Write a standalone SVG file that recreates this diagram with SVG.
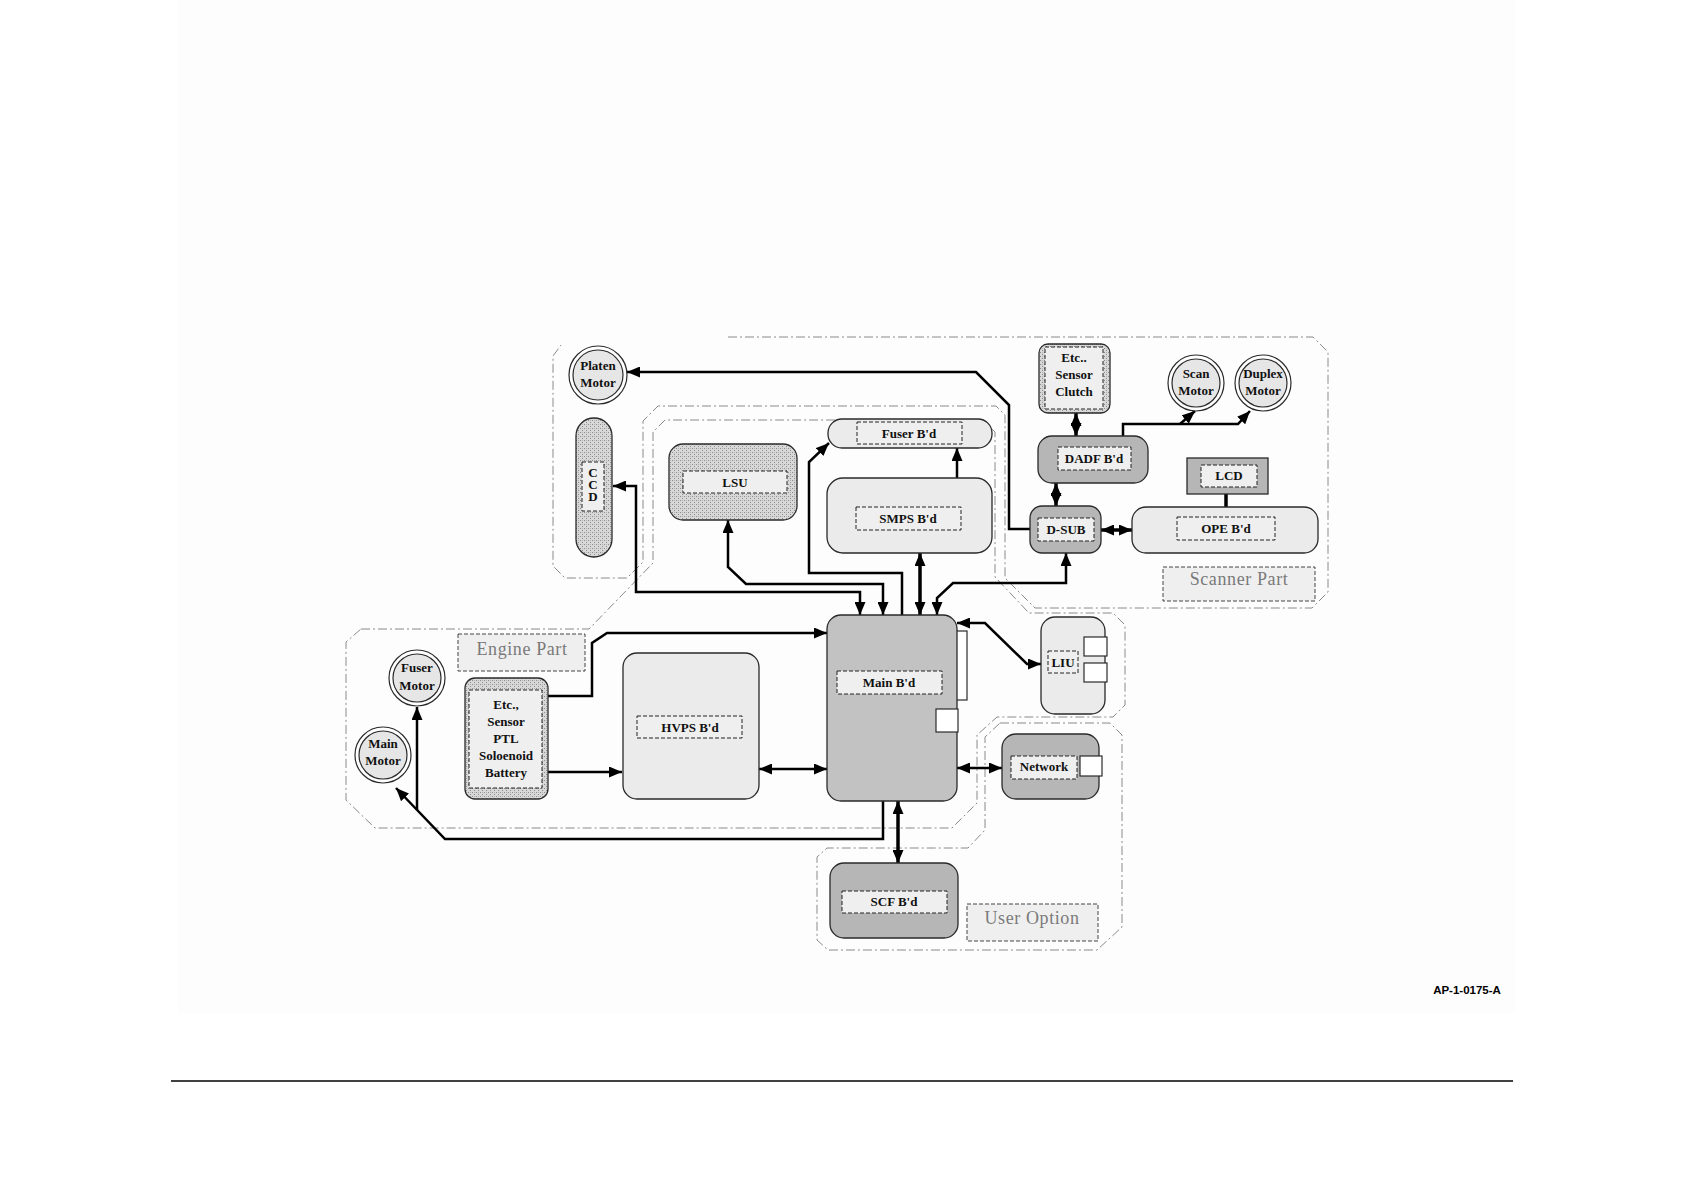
<svg xmlns="http://www.w3.org/2000/svg" width="1684" height="1190" viewBox="0 0 1684 1190">
<defs>
<pattern id="hatch" width="4" height="4" patternUnits="userSpaceOnUse">
<rect width="4" height="4" fill="#d8d8d8"/>
<rect x="0" y="0" width="1" height="1" fill="#8c8c8c"/>
<rect x="2" y="2" width="1" height="1" fill="#8c8c8c"/>
<rect x="2" y="0" width="1" height="1" fill="#b4b4b4"/>
</pattern>
<marker id="ah" viewBox="0 0 13 11" refX="13" refY="5.5" markerWidth="13" markerHeight="11" markerUnits="userSpaceOnUse" orient="auto-start-reverse">
<path d="M0,0 L13,5.5 L0,11 z" fill="#000"/>
</marker>
<style>
.box{stroke:#2a2a2a;stroke-width:1.3}
.light{fill:#ebebeb}
.mid{fill:#c2c2c2}
.dark{fill:#b6b6b6}
.pat{fill:url(#hatch)}
.in{fill:#efefef;stroke:#222;stroke-width:1;stroke-dasharray:4 2}
.wh{fill:#fff;stroke:#2a2a2a;stroke-width:1.2}
.t{font-family:"Liberation Serif",serif;font-weight:bold;font-size:13px;text-anchor:middle;fill:#111}
.lbl{font-family:"Liberation Serif",serif;font-size:18px;letter-spacing:0.6px;text-anchor:middle;fill:#7a7a7a}
.lr{fill:#efefef;stroke:#444;stroke-width:1;stroke-dasharray:4 2}
.zone{fill:none;stroke:#8a8a8a;stroke-width:1;stroke-dasharray:9 3 2 3}
.c{fill:none;stroke:#000;stroke-width:2.5}
.cb{fill:none;stroke:#000;stroke-width:3.5}
.co{fill:#fff;stroke:#2a2a2a;stroke-width:1.2}
.ci{fill:#e6e6e6;stroke:#2a2a2a;stroke-width:1.2}
</style>
</defs>
<rect x="0" y="0" width="1684" height="1190" fill="#fff"/>
<rect x="178" y="0" width="1337" height="1013" fill="#fdfdfd"/>

<g id="zones">
<path class="zone" d="M728,337 L1313,337 L1328,352 L1328,592 L1312,608 L1035,608 L1005,578 L1005,415 L996,406 L658,406 L643,421 L643,562 L627,578 L565,578 L553,566 L553,356 L561,345"/>
<path class="zone" d="M361,629 L589,629 L653,563 L653,432 L665,420 L983,420 L995,432 L995,577 L1029,613 L1113,613 L1125,625 L1125,705 L1113,717 L997,717 L977,735 L977,803 L952,828 L375,828 L346,800 L346,642 Z"/>
<path class="zone" d="M1000,723 L1110,723 L1122,735 L1122,927 L1097,950 L828,950 L817,940 L817,857 L827,848 L968,848 L985,830 L985,737 Z"/>
</g>

<g id="labels">
<rect class="lr" x="458" y="634" width="127" height="37"/>
<text class="lbl" x="522" y="655">Engine Part</text>
<rect class="lr" x="1163" y="567" width="152" height="34"/>
<text class="lbl" x="1239" y="585">Scanner Part</text>
<rect class="lr" x="967" y="904" width="131" height="37"/>
<text class="lbl" x="1032" y="924">User Option</text>
</g>

<g id="connectors">
<path class="c" d="M1030,529 L1009,529 L1009,405 L976,372 L627,372" marker-end="url(#ah)"/>
<path class="c" d="M860,615 L860,592 L636,592 L636,486 L613,486" marker-start="url(#ah)" marker-end="url(#ah)"/>
<path class="c" d="M883,615 L883,584 L746,584 L728,567 L728,520" marker-start="url(#ah)" marker-end="url(#ah)"/>
<path class="c" d="M902,615 L902,573 L809,573 L809,462 L829,443" marker-end="url(#ah)"/>
<path class="cb" d="M920,615 L920,553" marker-start="url(#ah)" marker-end="url(#ah)"/>
<path class="c" d="M957,478 L957,448" marker-end="url(#ah)"/>
<path class="c" d="M937,615 L937,598 L953,583 L1066,583 L1066,553" marker-start="url(#ah)" marker-end="url(#ah)"/>
<path class="cb" d="M1076,413 L1076,436" marker-start="url(#ah)" marker-end="url(#ah)"/>
<path class="cb" d="M1056,483 L1056,506" marker-start="url(#ah)" marker-end="url(#ah)"/>
<path class="cb" d="M1101,530 L1132,530" marker-start="url(#ah)" marker-end="url(#ah)"/>
<path class="cb" d="M1226,494 L1226,507"/>
<path class="c" d="M1123,436 L1123,424 L1238,424 L1250,411" marker-end="url(#ah)"/>
<path class="c" d="M1180,424 L1195,411" marker-end="url(#ah)"/>
<path class="c" d="M883,801 L883,839 L445,839 L396,788" marker-end="url(#ah)"/>
<path class="c" d="M417,810 L417,707" marker-end="url(#ah)"/>
<path class="c" d="M548,772 L622,772" marker-end="url(#ah)"/>
<path class="c" d="M548,696 L592,696 L592,643 L607,633 L827,633" marker-end="url(#ah)"/>
<path class="c" d="M759,769 L827,769" marker-start="url(#ah)" marker-end="url(#ah)"/>
<path class="c" d="M957,623 L985,623 L1027,664 L1041,664" marker-start="url(#ah)" marker-end="url(#ah)"/>
<path class="c" d="M957,768 L1002,768" marker-start="url(#ah)" marker-end="url(#ah)"/>
<path class="cb" d="M898,801 L898,863" marker-start="url(#ah)" marker-end="url(#ah)"/>
</g>

<g id="platen-motor">
<circle class="co" cx="598" cy="375" r="29"/>
<circle class="ci" cx="598" cy="375" r="25"/>
<text class="t" x="598" y="370">Platen</text>
<text class="t" x="598" y="387">Motor</text>
</g>

<g id="ccd">
<rect class="box pat" x="576" y="418" width="36" height="139" rx="18"/>
<rect class="in" x="582" y="462" width="22" height="49"/>
<text class="t" x="593" y="477" font-size="11">C</text>
<text class="t" x="593" y="489" font-size="11">C</text>
<text class="t" x="593" y="501" font-size="11">D</text>
</g>

<g id="lsu">
<rect class="box pat" x="669" y="444" width="128" height="76" rx="14"/>
<rect class="in" x="683" y="471" width="104" height="22"/>
<text class="t" x="735" y="487">LSU</text>
</g>

<g id="fuser-bd">
<rect class="box light" x="828" y="419" width="164" height="29" rx="14"/>
<rect class="in" x="857" y="422" width="105" height="22"/>
<text class="t" x="909" y="438">Fuser B'd</text>
</g>

<g id="smps-bd">
<rect class="box light" x="827" y="478" width="165" height="75" rx="16"/>
<rect class="in" x="856" y="507" width="105" height="23"/>
<text class="t" x="908" y="523">SMPS B'd</text>
</g>

<g id="etc-scanner">
<rect class="box pat" x="1039" y="344" width="71" height="69" rx="9"/>
<rect class="in" x="1045" y="347" width="58" height="62"/>
<text class="t" x="1074" y="362">Etc..</text>
<text class="t" x="1074" y="379">Sensor</text>
<text class="t" x="1074" y="396">Clutch</text>
</g>

<g id="scan-motor">
<circle class="co" cx="1196" cy="383" r="28"/>
<circle class="ci" cx="1196" cy="383" r="24"/>
<text class="t" x="1196" y="378">Scan</text>
<text class="t" x="1196" y="395">Motor</text>
</g>

<g id="duplex-motor">
<circle class="co" cx="1263" cy="383" r="28"/>
<circle class="ci" cx="1263" cy="383" r="24"/>
<text class="t" x="1263" y="378">Duplex</text>
<text class="t" x="1263" y="395">Motor</text>
</g>

<g id="dadf-bd">
<rect class="box dark" x="1038" y="436" width="110" height="47" rx="14"/>
<rect class="in" x="1058" y="447" width="73" height="23"/>
<text class="t" x="1094" y="463">DADF B'd</text>
</g>

<g id="d-sub">
<rect class="box dark" x="1030" y="506" width="71" height="47" rx="12"/>
<rect class="in" x="1038" y="518" width="56" height="23"/>
<text class="t" x="1066" y="534">D-SUB</text>
</g>

<g id="lcd">
<rect class="box dark" x="1187" y="458" width="81" height="36"/>
<rect class="in" x="1201" y="465" width="56" height="22"/>
<text class="t" x="1229" y="480">LCD</text>
</g>

<g id="ope-bd">
<rect class="box light" x="1132" y="507" width="186" height="46" rx="14"/>
<rect class="in" x="1177" y="517" width="98" height="23"/>
<text class="t" x="1226" y="533">OPE B'd</text>
</g>

<g id="fuser-motor">
<circle class="co" cx="417" cy="678" r="28"/>
<circle class="ci" cx="417" cy="678" r="24"/>
<text class="t" x="417" y="672">Fuser</text>
<text class="t" x="417" y="690">Motor</text>
</g>

<g id="main-motor">
<circle class="co" cx="383" cy="755" r="28"/>
<circle class="ci" cx="383" cy="755" r="24"/>
<text class="t" x="383" y="748">Main</text>
<text class="t" x="383" y="765">Motor</text>
</g>

<g id="etc-engine">
<rect class="box pat" x="465" y="678" width="83" height="121" rx="10"/>
<rect class="in" x="469" y="690" width="73" height="98"/>
<text class="t" x="506" y="709">Etc.,</text>
<text class="t" x="506" y="726">Sensor</text>
<text class="t" x="506" y="743">PTL</text>
<text class="t" x="506" y="760">Soloenoid</text>
<text class="t" x="506" y="777">Battery</text>
</g>

<g id="hvps-bd">
<rect class="box light" x="623" y="653" width="136" height="146" rx="14"/>
<rect class="in" x="637" y="716" width="105" height="22"/>
<text class="t" x="690" y="732">HVPS B'd</text>
</g>

<g id="main-bd">
<rect class="wh" x="952" y="631" width="15" height="69"/>
<rect class="box mid" x="827" y="615" width="130" height="186" rx="14"/>
<rect class="in" x="837" y="671" width="105" height="23"/>
<text class="t" x="889" y="687">Main B'd</text>
<rect class="wh" x="936" y="709" width="22" height="23"/>
</g>

<g id="liu">
<rect class="box light" x="1041" y="617" width="64" height="97" rx="14"/>
<rect class="in" x="1048" y="651" width="30" height="22"/>
<text class="t" x="1063" y="667">LIU</text>
<rect class="wh" x="1084" y="637" width="23" height="19"/>
<rect class="wh" x="1084" y="663" width="23" height="19"/>
</g>

<g id="network">
<rect class="box dark" x="1002" y="734" width="97" height="65" rx="14"/>
<rect class="in" x="1011" y="756" width="66" height="23"/>
<text class="t" x="1044" y="771">Network</text>
<rect class="wh" x="1080" y="756" width="22" height="20"/>
</g>

<g id="scf-bd">
<rect class="box dark" x="830" y="863" width="128" height="75" rx="14"/>
<rect class="in" x="842" y="891" width="105" height="22"/>
<text class="t" x="894" y="906">SCF B'd</text>
</g>

<g id="footer">
<text x="1467" y="994" font-family="Liberation Sans, sans-serif" font-weight="bold" font-size="11.5" text-anchor="middle" fill="#000">AP-1-0175-A</text>
<line x1="171" y1="1081" x2="1513" y2="1081" stroke="#000" stroke-width="1.5"/>
</g>
</svg>
